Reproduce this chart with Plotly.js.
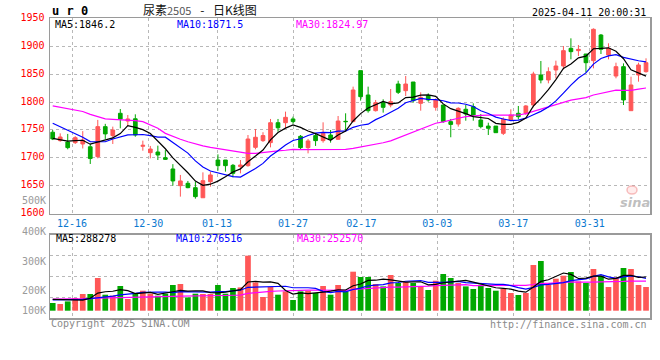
<!DOCTYPE html>
<html>
<head>
<meta charset="utf-8">
<script src="https://cdn.plot.ly/plotly-3.0.1.min.js"></script>
<style>html,body{margin:0;padding:0;background:#fff;}#chart{width:660px;height:360px;}</style>
</head>
<body>
<div id="chart"></div>
<script>
// ---- data ----
const idx = Array.from({length: 80}, (_, i) => i);
const open = [1746,1731,1728.6,1727.4,1725,1720,1702.4,1756,1740,1779.8,1766,1770,1720.9,1709.5,1710.7,1700.6,1680.4,1650.6,1654.8,1647,1629,1657.7,1696.4,1696.4,1686.9,1684.5,1686.3,1719,1731,1727.4,1763,1763,1769.7,1738.7,1718.5,1740,1731,1741,1733.4,1765.5,1765,1856,1812.5,1784.5,1798.8,1794.6,1832.1,1820.2,1835.7,1797.6,1811.3,1790.5,1794.6,1764.9,1760.7,1787,1791.7,1767.9,1757,1757,1744,1767.9,1779.8,1779.8,1794.6,1848.2,1839.3,1857.2,1864.3,1895.8,1891.7,1885.7,1873.8,1919.6,1883.9,1846.4,1863.1,1784.5,1848.2,1854.2];
const high = [1750,1744,1743,1739,1748,1725,1768,1761,1756,1787.5,1776.8,1778,1731,1721.5,1722,1714,1689,1669.7,1659,1657.7,1674.4,1675.6,1706.5,1696.4,1689.3,1696.4,1741,1751.8,1746,1769.7,1769.7,1782.8,1773.8,1741,1734,1744,1763.7,1750,1775,1779.8,1827.4,1856,1827.4,1803.6,1804.8,1823.2,1838,1846.4,1835.7,1817.3,1815.5,1806.5,1794.6,1769.7,1790.5,1794.6,1797.6,1778.6,1763,1757,1772.6,1787,1792.9,1794.6,1854,1873.2,1861.9,1873.8,1900,1913.7,1901.8,1885.7,1931.5,1921.4,1904.8,1870.2,1869,1845.2,1870.2,1878];
const low = [1732,1729,1715.5,1725,1717,1689.3,1699.4,1734,1725,1753,1757,1738,1713,1699.4,1696.4,1696.4,1650.6,1631,1646,1627.4,1629,1648.8,1677.4,1675.6,1665.5,1672.6,1684.5,1715.5,1728.6,1719,1747,1753,1761,1714.3,1708.3,1721.5,1727.4,1727.4,1732.2,1748.8,1763.7,1802.4,1781,1783,1781,1790.5,1814.3,1810.7,1798.8,1784.5,1800.6,1784.5,1763,1737,1756,1766.6,1766.6,1753,1741,1745,1741,1766.6,1769,1776.8,1790.5,1833.3,1833.3,1842.3,1858.3,1876.2,1882.1,1852.4,1860.1,1885.7,1876.2,1842.3,1794.6,1784.5,1836.3,1852.4];
const close = [1734,1737.5,1718.5,1736.3,1732,1699,1756,1743,1750,1769.7,1769.7,1741,1722.6,1716,1705.4,1697.6,1659,1659,1647,1631,1659.5,1669.7,1686.3,1686.3,1672.6,1687.5,1733.9,1737,1740,1763,1754,1772.6,1765,1718.5,1730.4,1731,1744,1734,1766,1764.9,1821.4,1809.5,1784.5,1798.8,1790.5,1800.6,1817.3,1832.1,1802.4,1808.3,1803.6,1803.6,1764.9,1760,1788.7,1778.6,1776.8,1756,1753,1745.2,1769,1776.8,1773.8,1792.9,1850,1839.3,1854.2,1864.3,1891.7,1889.9,1894,1870.2,1929.8,1894,1895.8,1863.1,1803.6,1830.4,1866.1,1870.2];
const ma5 = [1735,1733,1730,1731,1731.7,1724.7,1728.4,1733.3,1736,1743.5,1757.7,1754.7,1750.6,1743.8,1730.9,1716.5,1700.1,1687.4,1673.6,1658.7,1651.1,1653.2,1658.7,1666.6,1674.9,1680.5,1693.3,1703.5,1714.2,1732.3,1745.6,1753.3,1758.9,1754.6,1748.1,1743.5,1737.8,1731.6,1741.1,1748,1766.1,1779.2,1789.3,1795.8,1800.9,1796.8,1798.3,1807.9,1808.6,1812.1,1812.7,1810,1796.6,1788.1,1784.2,1779.2,1773.8,1772,1770.6,1761.9,1760,1760,1763.6,1771.5,1792.5,1806.6,1822,1840.1,1859.9,1867.9,1878.8,1882,1895.1,1895.6,1896.8,1890.6,1877.3,1857.4,1851.8,1846.2];
const ma10 = [1762,1756,1750,1744,1737,1729.2,1728.6,1729,1734,1737.6,1741.2,1741.5,1741.9,1739.9,1737.2,1737.1,1727.4,1719,1708.7,1694.8,1683.8,1676.7,1673.1,1670.1,1666.8,1665.8,1673.3,1681.1,1690.4,1703.6,1713,1723.3,1731.2,1734.4,1740.2,1744.5,1745.6,1745.3,1747.9,1748,1754.8,1758.5,1760.4,1768.5,1774.5,1781.4,1788.8,1798.6,1802.2,1806.5,1804.8,1804.2,1802.2,1798.3,1798.2,1796,1791.9,1784.3,1779.4,1773,1769.6,1766.9,1767.8,1771.1,1777.2,1783.3,1791,1801.9,1815.7,1830.2,1842.7,1852,1867.6,1877.7,1882.3,1884.7,1879.6,1876.3,1873.7,1871.5];
const ma30 = [1793,1790.5,1789,1786,1783,1778,1774,1770,1769,1768.5,1768,1766.7,1765,1759,1753,1744,1738,1733.4,1729,1725,1721.5,1719,1717,1714.3,1712.5,1710,1708.3,1708.3,1710,1712,1712.7,1713.8,1715.4,1714.8,1714.7,1715.8,1715.4,1715.1,1715.6,1715.5,1717.2,1719.5,1721.6,1724.3,1727.2,1730.6,1735.9,1741.6,1746.8,1752.7,1757.5,1762,1764.6,1767.1,1770.9,1774,1775.4,1776,1776.5,1775.9,1776.4,1776.5,1776.8,1779.3,1783.3,1786.9,1790.6,1794.9,1799.1,1803.3,1805.7,1807.7,1812.5,1815.7,1819.2,1821.3,1820.9,1820.8,1822.9,1824.97];
const volume = [65800,57300,79500,108600,142800,142800,279600,136800,128300,211200,100000,151300,171000,145400,128300,145400,219700,228300,113700,145400,142800,142800,219700,145400,194100,199200,470300,242000,117100,202600,136800,165000,91500,165000,171000,151300,211200,136800,219700,165000,333500,288100,288100,228300,207800,305200,236800,245400,236800,211200,177000,256500,313800,279600,236800,207800,185500,222300,194100,171000,185500,151300,134200,151300,390700,424900,222300,273600,299300,330900,250500,236800,356500,299300,202600,284700,365100,356500,219700,202600];
const volMa5 = [96000,94000,92000,90000,90800,106200,150700,162100,166100,179700,171200,145500,152400,155800,139200,148300,162000,173400,167100,170500,170000,154600,152900,159200,169000,180200,245700,250200,244500,246200,233800,172700,142600,152200,145900,148800,158000,167100,178000,176800,213200,228600,258900,260600,269200,263500,253200,244700,246400,247100,221400,225400,239100,247600,252700,258900,244700,226400,209300,196100,191700,184800,167200,158700,202600,250500,264700,292600,322200,310200,275300,278200,294800,294800,269100,276000,301600,301600,285700,288278];
const volMa10 = [93000,93000,94000,95000,96000,104000,110000,116000,125000,135300,138700,148100,157200,160900,159500,159700,153700,162900,161400,154900,159100,158300,163200,163200,169700,175100,200200,201500,201900,207600,207000,209200,196400,198400,196100,191300,165400,154800,165100,161300,181000,193300,213000,219300,223000,238400,240900,251800,253500,258100,242500,239300,241900,247000,249900,240200,235000,232700,228500,224400,225300,214800,196800,184000,199400,221100,224800,229900,240400,256400,262900,271500,293700,308500,289700,275700,289900,298200,290300,276516];
const volMa30 = [100000,100000,100000,101000,101000,103000,107000,108000,110000,112000,113000,115000,117000,118000,119000,120000,122000,124000,124000,125000,126000,127000,129000,130000,132000,134000,148000,155000,160000,165900,168300,171900,172300,174100,175100,175400,173100,173100,176100,174600,182400,186900,190800,193600,196300,201600,202200,202700,206800,209000,210200,213900,217100,221600,223000,223300,213800,213100,215700,214600,216300,215800,217200,216800,224100,233200,233600,238100,240800,246300,243600,241800,244100,246500,246300,245600,249900,253600,253000,252570];
const dateTickLabels = ['12-16','12-30','01-13','01-27','02-17','03-03','03-17','03-31'];
const priceTicks = [1600,1650,1700,1750,1800,1850,1900,1950];
const volTickLabels = ['500K','400K','300K','200K','100K'];

// ---- styling / layout ----
const RED = '#ff5757', GREEN = '#00a800';
const MONO = 'DejaVu Sans Mono, monospace';
const dateTickPos = [2.57, 12.73, 21.88, 32.0, 41.1, 51.21, 61.33, 71.5];
const volColors = close.map((c, i) => (c >= open[i] ? RED : GREEN));

const traces = [
  {type: 'candlestick', x: idx, open: open, high: high, low: low, close: close,
   xaxis: 'x', yaxis: 'y', whiskerwidth: 0, showlegend: false, hoverinfo: 'skip',
   increasing: {line: {color: RED, width: 1}, fillcolor: RED},
   decreasing: {line: {color: GREEN, width: 1}, fillcolor: GREEN}},
  {type: 'scatter', mode: 'lines', x: idx, y: ma30, xaxis: 'x', yaxis: 'y', line: {color: '#ff00ff', width: 1.2}, showlegend: false, hoverinfo: 'skip'},
  {type: 'scatter', mode: 'lines', x: idx, y: ma10, xaxis: 'x', yaxis: 'y', line: {color: '#0000ff', width: 1.2}, showlegend: false, hoverinfo: 'skip'},
  {type: 'scatter', mode: 'lines', x: idx, y: ma5, xaxis: 'x', yaxis: 'y', line: {color: '#000000', width: 1.2}, showlegend: false, hoverinfo: 'skip'},
  {type: 'bar', x: idx, y: volume, xaxis: 'x2', yaxis: 'y2', width: 0.76, marker: {color: volColors, line: {width: 0}}, showlegend: false, hoverinfo: 'skip'},
  {type: 'scatter', mode: 'lines', x: idx, y: volMa30, xaxis: 'x2', yaxis: 'y2', line: {color: '#ff00ff', width: 1.2}, showlegend: false, hoverinfo: 'skip'},
  {type: 'scatter', mode: 'lines', x: idx, y: volMa10, xaxis: 'x2', yaxis: 'y2', line: {color: '#0000ff', width: 1.2}, showlegend: false, hoverinfo: 'skip'},
  {type: 'scatter', mode: 'lines', x: idx, y: volMa5, xaxis: 'x2', yaxis: 'y2', line: {color: '#000000', width: 1.2}, showlegend: false, hoverinfo: 'skip'}
];

const xRange = [-0.36, 79.53];
const volRange = [-62400, 649800];
const gridC = '#b8b8b8', borderC = '#9a9a9a';
const baseX = {range: xRange, tickmode: 'array', tickvals: dateTickPos, ticktext: dateTickLabels,
  showgrid: true, gridcolor: gridC, griddash: 'dot', gridwidth: 1, zeroline: false,
  showline: true, mirror: true, linecolor: borderC, linewidth: 1.5, ticks: '',
  fixedrange: true, rangeslider: {visible: false}};

function ann(text, xpx, ypx, anchor, color, size, extra) {
  return Object.assign({text: text, xref: 'paper', yref: 'paper',
    x: (xpx - 50) / 600, y: (318 - ypx) / 300, xanchor: anchor, yanchor: 'middle',
    showarrow: false, font: {family: MONO, size: size || 10, color: color}}, extra || {});
}

const annotations = [
  ann('u r 0', 50, 11, 'left', '#000', 12, {font: {family: MONO, size: 12, color: '#000', weight: 'bold'}}),
  ann('尿素<span style="font-size:11px;color:#555">2505</span>\u2002\u00a0-\u2002\u00a0日K线图', 200, 9.5, 'center', '#111', 12, {font: {family: 'Noto Sans CJK SC, sans-serif', size: 12, color: '#111'}}),
  ann('2025-04-11 20:00:31', 648, 12.5, 'right', '#000', 10),
  ann('MA5:1846.2', 53, 24, 'left', '#000000', 10),
  ann('MA10:1871.5', 174.5, 24, 'left', '#0000ff', 10),
  ann('MA30:1824.97', 294, 24, 'left', '#ff00ff', 10),
  ann('MA5:288278', 53.5, 238.3, 'left', '#000000', 10),
  ann('MA10:276516', 174.3, 238.3, 'left', '#0000ff', 10),
  ann('MA30:252570', 294.5, 238.3, 'left', '#ff00ff', 10),
  ann('Copyright 2025 SINA.COM', 49, 323.5, 'left', '#8a8a8a', 10),
  ann('http://finance.sina.com.cn', 649, 324, 'right', '#8a8a8a', 10),
  ann('<i>sina</i>', 635, 202, 'center', 'rgba(170,170,170,0.75)', 13, {font: {family: 'DejaVu Sans, sans-serif', size: 13, color: 'rgba(170,170,170,0.75)', weight: 'bold'}})
];
const volLabelY = [200, 231, 261, 290, 310];
volTickLabels.forEach((t, i) => annotations.push(ann(t, 47.5, volLabelY[i], 'right', '#9a9a9a', 10)));

// faint sina "eye" logo mark (decorative watermark)
const shapes = [
  {type: 'circle', xref: 'paper', yref: 'paper', x0: (627 - 50) / 600, x1: (637 - 50) / 600,
   y0: (318 - 194) / 300, y1: (318 - 186) / 300, line: {color: 'rgba(240,140,140,0.55)', width: 1.5},
   fillcolor: 'rgba(255,200,200,0.35)', layer: 'above'}
];

const layout = {
  width: 660, height: 360,
  margin: {l: 50, r: 10, t: 18, b: 42, pad: 0},
  paper_bgcolor: '#fff', plot_bgcolor: '#fff',
  showlegend: false, boxgap: 0.3,
  font: {family: MONO, size: 10},
  xaxis: Object.assign({}, baseX, {anchor: 'y', domain: [0, 1], showticklabels: true,
    tickfont: {family: MONO, size: 10, color: '#0a78d0'}}),
  xaxis2: Object.assign({}, baseX, {anchor: 'y2', domain: [0, 1], showticklabels: false}),
  yaxis: {domain: [0.3467, 1], range: [1600, 1950], tickmode: 'array', tickvals: priceTicks,
    ticktext: priceTicks.map(String), showgrid: true, gridcolor: gridC, griddash: 'dot', gridwidth: 1,
    zeroline: false, showline: true, mirror: true, linecolor: borderC, linewidth: 1.5, ticks: '',
    ticklabelstandoff: 2, ticklabelshift: -1,
    tickfont: {family: MONO, size: 10, color: '#ff0000'}, fixedrange: true},
  yaxis2: {domain: [0, 0.2777], range: volRange, tickmode: 'linear', tick0: volRange[0],
    dtick: (volRange[1] - volRange[0]) / 4, showticklabels: false, showgrid: true, gridcolor: gridC,
    griddash: 'dot', gridwidth: 1, zeroline: false, showline: true, mirror: true,
    linecolor: borderC, linewidth: 1.5, ticks: '', fixedrange: true},
  annotations: annotations,
  shapes: shapes
};

Plotly.newPlot('chart', traces, layout, {staticPlot: true, displayModeBar: false});
</script>
</body>
</html>
